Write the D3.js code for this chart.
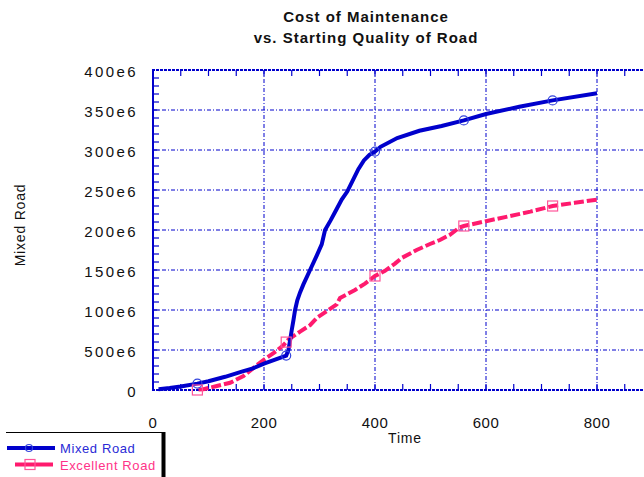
<!DOCTYPE html>
<html><head><meta charset="utf-8">
<script src="https://cdn.jsdelivr.net/npm/d3@7"></script>
<style>
html,body{margin:0;padding:0;background:#fff;}
svg{display:block;font-family:"Liberation Sans",Arial,sans-serif;}
</style></head>
<body>
<script>
// ---- data ----
const titleLines = ["Cost of Maintenance", "vs.  Starting Quality of Road"];
const xTicks = [0, 200, 400, 600, 800];
const yTicks = [0, 50e6, 100e6, 150e6, 200e6, 250e6, 300e6, 350e6, 400e6];
const yTickLabels = ["0", "500e6", "100e6", "150e6", "200e6", "250e6", "300e6", "350e6", "400e6"];
const seriesNames = ["Mixed Road", "Excellent Road"];
const mixedT = [10, 30, 50, 80, 100, 130, 160, 180, 200, 220, 240, 244, 247, 250, 253, 256, 260, 265, 271, 283, 295, 304, 310, 320, 330, 340, 350, 360, 370, 380, 390, 400, 410, 440, 480, 520, 560, 600, 660, 720, 800];
const mixedV = [1, 2.5, 4.5, 8, 11, 16.5, 23, 27, 33, 38, 43, 50, 62, 75, 87, 100, 112, 122, 132, 150, 168, 182, 200, 212, 225, 238, 248, 262, 276, 287, 294, 298, 304, 315, 324, 330, 337, 345, 354, 362, 371].map(v => v * 1e6);
const excT = [82, 91, 115, 139, 163, 187, 199, 217, 235, 244, 265, 283, 295, 316, 331, 337, 364, 382, 400, 418, 436, 448, 475, 499, 517, 535, 552, 560, 600, 640, 680, 720, 760, 800];
const excV = [0.5, 1, 5, 9, 17.5, 31, 37.5, 46, 56, 63, 73, 81, 90, 100, 107, 115, 125, 133, 142.5, 149, 158, 165, 175, 182.5, 187.5, 194, 203, 205, 211, 217, 223, 230, 234, 238].map(v => v * 1e6);
const markerTimes = [80, 240, 400, 560, 720];

const W = 644, H = 477;
const blue = "#0000cc", pink = "#ff1a6e";
const svg = d3.select("body").append("svg").attr("width", W).attr("height", H);

const x = d3.scaleLinear().domain([0, 900]).range([153, 652.5]);
const y = d3.scaleLinear().domain([0, 400e6]).range([390, 70]);

// title
svg.append("g").selectAll("text").data(titleLines).join("text")
  .attr("x", 366).attr("y", (d, i) => 22 + i * 21)
  .attr("text-anchor", "middle").attr("font-weight", "bold")
  .attr("font-size", 15).attr("letter-spacing", 1).attr("fill", "#111")
  .text(d => d);

// grid
const gridDash = "4,2,1,2";
svg.append("g").selectAll("line").data(xTicks.filter(d => d > 0)).join("line")
  .attr("x1", d => x(d)).attr("x2", d => x(d)).attr("y1", 70).attr("y2", 390)
  .attr("stroke", blue).attr("stroke-width", 1).attr("stroke-dasharray", gridDash);
svg.append("g").selectAll("line").data(yTicks.filter(d => d > 0 && d < 400e6)).join("line")
  .attr("x1", 153).attr("x2", W).attr("y1", d => y(d)).attr("y2", d => y(d))
  .attr("stroke", blue).attr("stroke-width", 1).attr("stroke-dasharray", gridDash);

// minor ticks
const xMinor = d3.range(50, 900, 50);
const yMinor = d3.range(10e6, 400e6, 10e6);
const tk = svg.append("g").attr("stroke", blue).attr("stroke-width", 1.2);
tk.selectAll(".xb").data(xMinor).join("line").attr("class", "xb")
  .attr("x1", d => x(d)).attr("x2", d => x(d)).attr("y1", 390).attr("y2", 384);
tk.selectAll(".xt").data(xMinor).join("line").attr("class", "xt")
  .attr("x1", d => x(d)).attr("x2", d => x(d)).attr("y1", 70).attr("y2", 76);
tk.selectAll(".yl").data(yMinor).join("line").attr("class", "yl")
  .attr("x1", 153).attr("x2", 159).attr("y1", d => y(d)).attr("y2", d => y(d));

// frame
const fr = svg.append("g").attr("stroke", blue).attr("stroke-width", 2).attr("fill", "none");
fr.append("line").attr("x1", 153).attr("x2", 153).attr("y1", 69).attr("y2", 391);
fr.append("line").attr("x1", 152).attr("x2", W).attr("y1", 70).attr("y2", 70).attr("stroke-dasharray", "3,1");
fr.append("line").attr("x1", 152).attr("x2", W).attr("y1", 390).attr("y2", 390).attr("stroke-dasharray", "3,1");

// tick labels
svg.append("g").selectAll("text").data(yTicks).join("text")
  .attr("x", 138).attr("y", d => y(d) + 7).attr("text-anchor", "end")
  .attr("font-size", 15).attr("letter-spacing", 2.4).attr("fill", "#111")
  .text((d, i) => yTickLabels[i]);
svg.append("g").selectAll("text").data(xTicks).join("text")
  .attr("x", d => x(d)).attr("y", 428).attr("text-anchor", "middle")
  .attr("font-size", 15).attr("letter-spacing", 0.5).attr("fill", "#111")
  .text(d => d3.format("d")(d));

// axis titles
svg.append("text").attr("x", 405).attr("y", 443).attr("text-anchor", "middle")
  .attr("font-size", 14).attr("letter-spacing", 0.8).attr("fill", "#111").text("Time");
svg.append("text").attr("transform", "translate(25,225) rotate(-90)")
  .attr("text-anchor", "middle").attr("font-size", 14).attr("letter-spacing", 0.8)
  .attr("fill", "#111").text(seriesNames[0]);

// lines
const line = d3.line().x(d => x(d[0])).y(d => y(d[1]));
const mixed = mixedT.map((t, i) => [t, mixedV[i]]);
const exc = excT.map((t, i) => [t, excV[i]]);
svg.append("path").datum(exc).attr("d", line).attr("fill", "none")
  .attr("stroke", pink).attr("stroke-width", 4).attr("stroke-dasharray", "10,3");
svg.append("path").datum(mixed).attr("d", line).attr("fill", "none")
  .attr("stroke", blue).attr("stroke-width", 4);

// markers (values read from the series)
function interp(ts, vs, t) {
  if (t <= ts[0]) return vs[0];
  const i = d3.bisectLeft(ts, t);
  const a = ts[i - 1], b = ts[i];
  return vs[i - 1] + (vs[i] - vs[i - 1]) * (t - a) / (b - a);
}
svg.append("g").selectAll("circle").data(markerTimes).join("circle")
  .attr("cx", d => x(d)).attr("cy", d => y(interp(mixedT, mixedV, d)))
  .attr("r", 4.5).attr("fill", "none").attr("stroke", "#3344dd").attr("stroke-width", 1.2);
svg.append("g").selectAll("rect").data(markerTimes).join("rect")
  .attr("x", d => x(d) - 5).attr("y", d => y(d < excT[0] ? 0 : interp(excT, excV, d)) - 5)
  .attr("width", 10).attr("height", 10).attr("fill", "none")
  .attr("stroke", "#ff5599").attr("stroke-width", 1.2);

// legend
const lg = svg.append("g");
lg.append("line").attr("x1", 6).attr("x2", 163).attr("y1", 432.5).attr("y2", 432.5)
  .attr("stroke", "#000").attr("stroke-width", 1.2);
lg.append("line").attr("x1", 163.5).attr("x2", 163.5).attr("y1", 432).attr("y2", H)
  .attr("stroke", "#000").attr("stroke-width", 4);
lg.append("line").attr("x1", 7).attr("x2", 55).attr("y1", 448).attr("y2", 448)
  .attr("stroke", blue).attr("stroke-width", 4);
lg.append("circle").attr("cx", 29).attr("cy", 448).attr("r", 3.5)
  .attr("fill", "none").attr("stroke", "#3344dd").attr("stroke-width", 1.2);
lg.append("line").attr("x1", 15).attr("x2", 53).attr("y1", 464.5).attr("y2", 464.5)
  .attr("stroke", pink).attr("stroke-width", 4);
lg.append("rect").attr("x", 25).attr("y", 459.5).attr("width", 10).attr("height", 10)
  .attr("fill", "none").attr("stroke", "#ff5599").attr("stroke-width", 1.2);
lg.append("text").attr("x", 60).attr("y", 453).attr("font-size", 13).attr("letter-spacing", 0.6)
  .attr("fill", "#2a2ad6").text(seriesNames[0]);
lg.append("text").attr("x", 60).attr("y", 470).attr("font-size", 13).attr("letter-spacing", 0.6)
  .attr("fill", "#ff3388").text(seriesNames[1]);
</script>
</body></html>
